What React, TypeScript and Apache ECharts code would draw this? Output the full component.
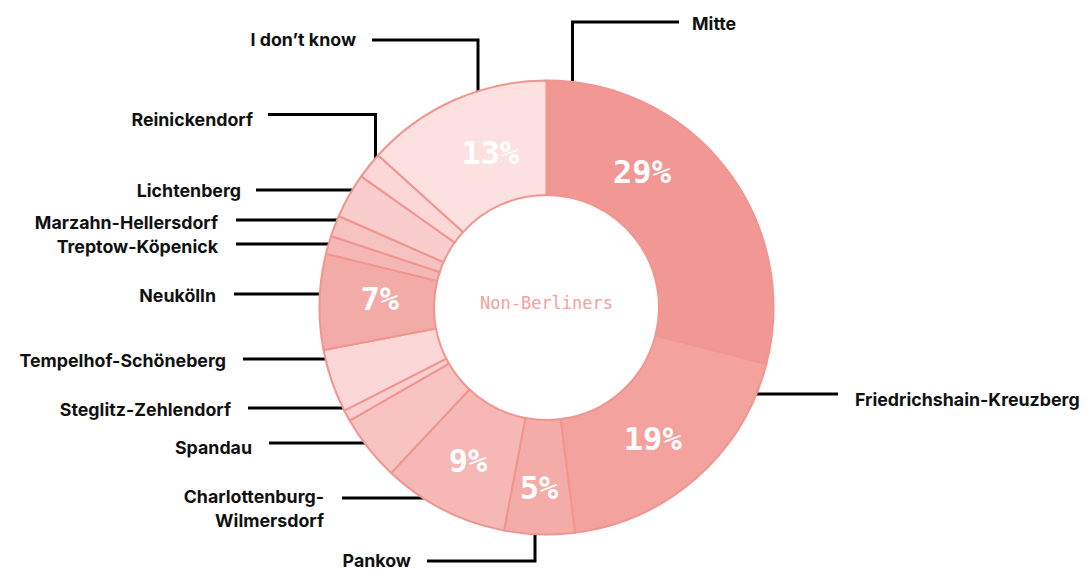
import React, { useEffect, useRef } from "react";
import * as echarts from "echarts";

const districts = [
  "Mitte",
  "Friedrichshain-Kreuzberg",
  "Pankow",
  "Charlottenburg-Wilmersdorf",
  "Spandau",
  "Steglitz-Zehlendorf",
  "Tempelhof-Schöneberg",
  "Neukölln",
  "Treptow-Köpenick",
  "Marzahn-Hellersdorf",
  "Lichtenberg",
  "Reinickendorf",
  "I don’t know",
];
const shares = [29, 19, 5, 9, 4.7, 0.8, 4.5, 6.8, 1.3, 1.5, 3.2, 1.9, 13.3];
const sliceColors = [
  "#f29894",
  "#f3a29e",
  "#f4aca8",
  "#f6b8b5",
  "#f7c4c1",
  "#f9cfcd",
  "#fbd8d7",
  "#f3aba7",
  "#f5b7b4",
  "#f7c3c0",
  "#f9cdcb",
  "#fbd7d6",
  "#fde1e0",
];
const centerLabel = "Non-Berliners";
const displayNames: Record<string, string> = {
  "Charlottenburg-Wilmersdorf": "Charlottenburg-\nWilmersdorf",
};

// label layout (positions only)
const outerLabels: Record<string, { x: number; y: number; align: string; pts: number[][] }> = {
  "Mitte": { x: 692, y: 23, align: "left", pts: [[572.5, 95], [572.5, 22], [679, 22]] },
  "Friedrichshain-Kreuzberg": { x: 855, y: 399, align: "left", pts: [[732, 394], [785, 394], [838, 394]] },
  "Pankow": { x: 411, y: 560, align: "right", pts: [[535, 517], [535, 561], [427, 561]] },
  "Charlottenburg-Wilmersdorf": { x: 324, y: 508, align: "right", pts: [[449, 498], [395, 498], [342, 498]] },
  "Spandau": { x: 252, y: 447, align: "right", pts: [[377, 443], [323, 443], [269, 443]] },
  "Steglitz-Zehlendorf": { x: 231, y: 409, align: "right", pts: [[356, 408], [302, 408], [248, 408]] },
  "Tempelhof-Schöneberg": { x: 226, y: 360, align: "right", pts: [[351, 359], [297, 359], [243, 359]] },
  "Neukölln": { x: 216, y: 295, align: "right", pts: [[342, 294], [288, 294], [234, 294]] },
  "Treptow-Köpenick": { x: 218, y: 246, align: "right", pts: [[343, 244], [290, 244], [236, 244]] },
  "Marzahn-Hellersdorf": { x: 218, y: 222, align: "right", pts: [[343, 220], [290, 220], [236, 220]] },
  "Lichtenberg": { x: 241, y: 190, align: "right", pts: [[363, 190], [310, 190], [256, 190]] },
  "Reinickendorf": { x: 253, y: 119, align: "right", pts: [[375.5, 169], [375.5, 114.5], [268, 114.5]] },
  "I don’t know": { x: 356, y: 39, align: "right", pts: [[478, 112], [478, 40], [372, 40]] },
};
const innerOffsets: Record<string, number[]> = {
  "Mitte": [-41, -30],
  "Friedrichshain-Kreuzberg": [-8, 2],
  "Pankow": [-2, 8],
  "Neukölln": [6, -4],
  "I don’t know": [14, 3],
};

export default function App() {
  const ref = useRef<HTMLDivElement>(null);
  useEffect(() => {
    document.body.style.margin = "0";
    const chart = echarts.init(ref.current!, undefined, { renderer: "svg" });
    const data = districts.map((n, i) => ({
      name: n,
      value: shares[i],
      itemStyle: { color: sliceColors[i] },
    }));
    chart.setOption({
      animation: false,
      graphic: [
        {
          type: "text",
          x: 546.5,
          y: 303,
          style: {
            text: centerLabel,
            fill: "#f4a09b",
            font: '17px "DejaVu Sans Mono", monospace',
            textAlign: "center",
            textVerticalAlign: "middle",
          },
        },
      ],
      series: [
        {
          type: "pie",
          center: [546.5, 307.5],
          radius: [112.5, 227],
          startAngle: 90,
          clockwise: true,
          avoidLabelOverlap: false,
          silent: true,
          itemStyle: { borderColor: "#f19590", borderWidth: 2 },
          label: {
            show: true,
            position: "outside",
            color: "#111",
            fontFamily: "Inter, sans-serif",
            fontWeight: 700,
            fontSize: 17.8,
            lineHeight: 24,
            formatter: (p: any) => displayNames[p.name] || p.name,
          },
          labelLine: { show: true, length: 10, length2: 10, lineStyle: { color: "#000", width: 3 } },
          labelLayout: (params: any) => {
            const L = outerLabels[districts[params.dataIndex]];
            return {
              x: L.x,
              y: L.y,
              align: L.align,
              verticalAlign: "middle",
              labelLinePoints: L.pts,
            };
          },
          data,
        },
        {
          type: "pie",
          center: [546.5, 307.5],
          radius: [112.5, 227],
          startAngle: 90,
          clockwise: true,
          silent: true,
          itemStyle: { color: "transparent", borderWidth: 0 },
          label: {
            show: true,
            position: "inside",
            color: "#fff",
            fontFamily: '"DejaVu Sans Mono", monospace',
            fontWeight: "bold",
            fontSize: 32,
            formatter: (p: any) => (p.value >= 5 ? Math.round(p.value) + "%" : ""),
          },
          labelLine: { show: false },
          labelLayout: (params: any) => {
            const o = innerOffsets[districts[params.dataIndex]] || [0, 0];
            return { dx: o[0], dy: o[1] };
          },
          data: districts.map((n, i) => ({ name: n, value: shares[i] })),
        },
      ],
    });
    return () => chart.dispose();
  }, []);
  return <div ref={ref} style={{ width: 1087, height: 572 }} />;
}
